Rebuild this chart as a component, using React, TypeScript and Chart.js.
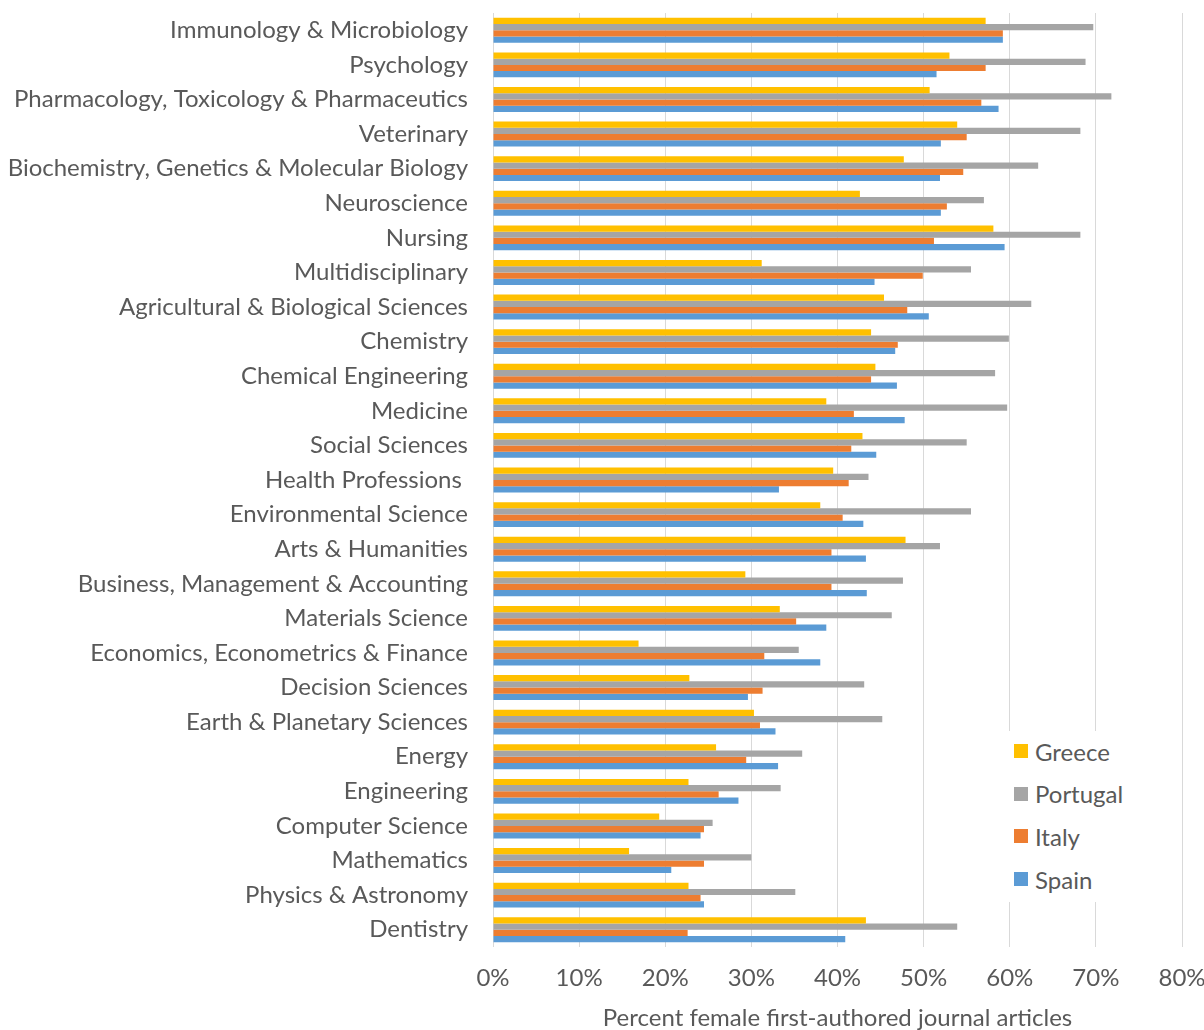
import React, { useEffect, useRef } from 'react';
import { Chart, registerables } from 'chart.js';

Chart.register(...registerables);

const categories = [
  'Immunology & Microbiology',
  'Psychology',
  'Pharmacology, Toxicology & Pharmaceutics',
  'Veterinary',
  'Biochemistry, Genetics & Molecular Biology',
  'Neuroscience',
  'Nursing',
  'Multidisciplinary',
  'Agricultural & Biological Sciences',
  'Chemistry',
  'Chemical Engineering',
  'Medicine',
  'Social Sciences',
  'Health Professions ',
  'Environmental Science',
  'Arts & Humanities',
  'Business, Management & Accounting',
  'Materials Science',
  'Economics, Econometrics & Finance',
  'Decision Sciences',
  'Earth & Planetary Sciences',
  'Energy',
  'Engineering',
  'Computer Science',
  'Mathematics',
  'Physics & Astronomy',
  'Dentistry',
];

const greece = [57.2, 53.0, 50.7, 53.9, 47.7, 42.6, 58.1, 31.2, 45.4, 43.9, 44.4, 38.7, 42.9, 39.5, 38.0, 47.9, 29.3, 33.3, 16.9, 22.8, 30.3, 25.9, 22.7, 19.3, 15.8, 22.7, 43.3];
const portugal = [69.7, 68.8, 71.8, 68.2, 63.3, 57.0, 68.2, 55.5, 62.5, 59.9, 58.3, 59.7, 55.0, 43.6, 55.5, 51.9, 47.6, 46.3, 35.5, 43.1, 45.2, 35.9, 33.4, 25.5, 30.0, 35.1, 53.9];
const italy = [59.2, 57.2, 56.7, 55.0, 54.6, 52.7, 51.2, 49.9, 48.1, 47.0, 43.9, 41.9, 41.6, 41.3, 40.6, 39.3, 39.3, 35.2, 31.5, 31.3, 31.0, 29.4, 26.2, 24.5, 24.5, 24.1, 22.6];
const spain = [59.2, 51.5, 58.7, 52.0, 51.9, 52.0, 59.4, 44.3, 50.6, 46.7, 46.9, 47.8, 44.5, 33.2, 43.0, 43.3, 43.4, 38.7, 38.0, 29.6, 32.8, 33.1, 28.5, 24.1, 20.7, 24.5, 40.9];

const seriesNames = ['Greece', 'Portugal', 'Italy', 'Spain'];
const seriesColors = ['#FFC000', '#A5A5A5', '#ED7D31', '#5B9BD5'];
const xTicks = [0, 10, 20, 30, 40, 50, 60, 70, 80];
const xTitle = 'Percent female first-authored journal articles';

const FONT = 'Lato, "Open Sans", sans-serif';
const TEXT = '#595959';

export default function App() {
  const ref = useRef<HTMLCanvasElement>(null);

  useEffect(() => {
    document.body.style.margin = '0';
    const values = [greece, portugal, italy, spain];
    const chart = new Chart(ref.current!, {
      type: 'bar',
      data: {
        labels: categories,
        datasets: seriesNames.map((name, i) => ({
          label: name,
          data: values[i],
          backgroundColor: seriesColors[i],
          borderWidth: 0,
          barPercentage: 1.0,
          categoryPercentage: 0.72,
        })),
      },
      options: {
        indexAxis: 'y',
        responsive: false,
        animation: false,
        layout: { padding: { left: 0, right: 22, top: 13, bottom: 0 } },
        plugins: {
          legend: { display: false },
          tooltip: { enabled: false },
        },
        scales: {
          x: {
            type: 'linear',
            min: xTicks[0],
            max: xTicks[xTicks.length - 1],
            afterBuildTicks: (scale: any) => {
              scale.ticks = xTicks.map((v) => ({ value: v }));
            },
            afterFit: (scale: any) => {
              scale.height = 83;
              scale.paddingLeft = 0;
              scale.paddingRight = 0;
            },
            grid: { color: '#D9D9D9', lineWidth: 1, drawTicks: false },
            border: { display: false },
            ticks: {
              padding: 17,
              color: TEXT,
              font: { family: FONT, size: 24 },
              callback: (v: any) => v + '%',
            },
            title: {
              display: true,
              text: xTitle,
              color: TEXT,
              font: { family: FONT, size: 24, lineHeight: 1.0 },
              padding: { top: 0, bottom: 0 },
            },
          },
          y: {
            type: 'category',
            afterFit: (scale: any) => {
              scale.width = 493;
              scale.paddingTop = 0;
              scale.paddingBottom = 0;
            },
            grid: { display: false, drawTicks: false },
            border: { display: false },
            ticks: {
              padding: 25,
              color: TEXT,
              font: { family: FONT, size: 24 },
              autoSkip: false,
            },
          },
        },
      },
    });
    return () => chart.destroy();
  }, []);

  return (
    <div style={{ position: 'relative', width: 1204, height: 1030 }}>
      <canvas ref={ref} width={1204} height={1030} style={{ display: 'block' }} />
      <div
        style={{
          position: 'absolute',
          left: 1004,
          top: 731,
          width: 172,
          height: 171,
          background: '#fff',
          fontFamily: FONT,
          fontSize: 24,
          color: TEXT,
        }}
      >
        {seriesNames.map((name, i) => (
          <div
            key={name}
            style={{
              position: 'absolute',
              left: 10,
              top: 5 + i * 42.7,
              height: 30,
              display: 'flex',
              alignItems: 'center',
              whiteSpace: 'nowrap',
            }}
          >
            <span
              style={{
                display: 'inline-block',
                width: 14,
                height: 14,
                background: seriesColors[i],
                marginRight: 7,
              }}
            />
            <span>{name}</span>
          </div>
        ))}
      </div>
    </div>
  );
}
